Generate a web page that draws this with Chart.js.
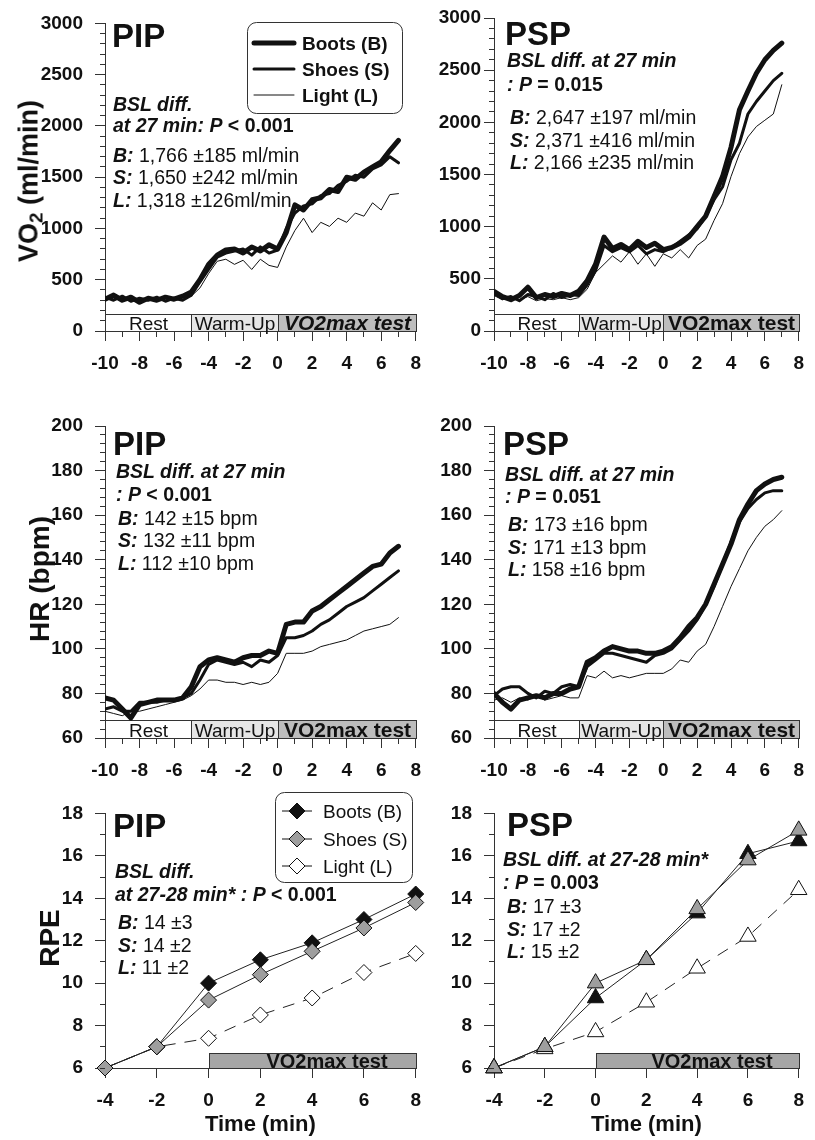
<!DOCTYPE html>
<html>
<head>
<meta charset="utf-8">
<script src="https://cdn.jsdelivr.net/npm/chart.js"></script>
<style>
  body { margin: 0; width: 815px; height: 1140px; position: relative; overflow: hidden; background: #fff;
         font-family: "Liberation Sans", Arial, sans-serif; color: #111; }
  .panel { position: absolute; }
  .txt { position: absolute; white-space: nowrap; line-height: 1; }
  .bi { font-weight: bold; font-style: italic; }
  .ytitle { position: absolute; white-space: nowrap; font-weight: bold; line-height: 1;
            transform: translate(-50%, -50%) rotate(-90deg); }
  .ytitle sub { font-size: 70%; vertical-align: -0.25em; line-height: 0; }
</style>
</head>
<body>
<div class="panel" style="left:0;top:0"><canvas id="c1" width="432" height="380"></canvas></div>
<div class="panel" style="left:415px;top:0"><canvas id="c2" width="400" height="380"></canvas></div>
<div class="panel" style="left:0;top:400px"><canvas id="c3" width="432" height="387"></canvas></div>
<div class="panel" style="left:415px;top:400px"><canvas id="c4" width="400" height="387"></canvas></div>
<div class="panel" style="left:0;top:790px"><canvas id="c5" width="432" height="350"></canvas></div>
<div class="panel" style="left:415px;top:790px"><canvas id="c6" width="400" height="350"></canvas></div>
<div id="notes"></div>
<script>
// ---- data ----
const minutes = [-10, -9.5, -9, -8.5, -8, -7.5, -7, -6.5, -6, -5.5, -5, -4.5, -4, -3.5, -3, -2.5, -2, -1.5, -1, -0.5,
  0, 0.5, 1, 1.5, 2, 2.5, 3, 3.5, 4, 4.5, 5, 5.5, 6, 6.5, 7];

const vo2PipBoots = [310, 350, 300, 330, 280, 320, 300, 330, 310, 340, 380, 500, 650, 740, 790, 800, 760, 820, 780, 840,
  800, 960, 1230, 1180, 1280, 1300, 1380, 1360, 1500, 1480, 1550, 1600, 1650, 1760, 1860];
const vo2PipShoes = [330, 300, 340, 290, 320, 300, 330, 290, 320, 300, 350, 480, 600, 720, 760, 780, 800, 740, 820, 760,
  790, 1000, 1150, 1220, 1240, 1320, 1340, 1420, 1460, 1520, 1500, 1580, 1620, 1700, 1640];
const vo2PipLight = [300, 320, 290, 310, 300, 330, 290, 340, 300, 330, 340, 420, 560, 680, 700, 650, 690, 600, 700, 640,
  620, 820, 980, 1100, 960, 1060, 1020, 1100, 1060, 1150, 1120, 1250, 1180, 1330, 1340];

const vo2PspBoots = [380, 330, 300, 340, 420, 320, 350, 330, 360, 340, 380, 480, 640, 900, 790, 830, 780, 860, 800, 840,
  780, 800, 840, 900, 1000, 1100, 1290, 1480, 1760, 2120, 2300, 2470, 2600, 2690, 2760];
const vo2PspShoes = [360, 310, 330, 290, 350, 330, 300, 360, 320, 350, 340, 440, 580, 820, 760, 800, 760, 820, 740, 780,
  760, 800, 860, 920, 980, 1100, 1260, 1380, 1640, 1800, 2080, 2200, 2300, 2400, 2470];
const vo2PspLight = [340, 300, 320, 300, 330, 290, 310, 300, 320, 300, 320, 400, 560, 640, 720, 660, 760, 640, 740, 620,
  740, 700, 780, 700, 820, 880, 1060, 1220, 1480, 1700, 1860, 1960, 2020, 2080, 2360];

const hrPipBoots = [78, 77, 73, 69, 75, 76, 77, 77, 77, 78, 83, 92, 95, 96, 95, 94, 96, 97, 97, 99,
  98, 111, 112, 112, 117, 119, 122, 125, 128, 131, 134, 137, 138, 143, 146];
const hrPipShoes = [73, 74, 72, 72, 76, 76, 76, 77, 77, 78, 80, 86, 93, 95, 94, 93, 94, 92, 95, 94,
  97, 105, 105, 106, 108, 111, 113, 116, 119, 121, 123, 126, 129, 132, 135];
const hrPipLight = [72, 71, 70, 72, 72, 73, 74, 75, 76, 77, 79, 82, 86, 86, 85, 85, 84, 85, 84, 85,
  89, 98, 98, 98, 99, 101, 102, 103, 104, 106, 108, 109, 110, 111, 114];

const hrPspBoots = [80, 76, 73, 77, 78, 79, 78, 80, 80, 82, 83, 94, 96, 99, 101, 100, 99, 99, 98, 98,
  99, 101, 105, 110, 114, 120, 129, 138, 147, 158, 165, 171, 174, 176, 177];
const hrPspShoes = [79, 82, 83, 83, 80, 78, 81, 80, 83, 84, 83, 92, 95, 98, 98, 97, 96, 95, 94, 97,
  98, 100, 104, 108, 113, 120, 128, 138, 148, 157, 163, 167, 170, 171, 171];
const hrPspLight = [77, 78, 76, 78, 77, 79, 77, 78, 79, 78, 78, 88, 87, 90, 87, 88, 87, 88, 89, 89,
  89, 91, 95, 94, 99, 102, 110, 119, 128, 136, 144, 150, 155, 158, 162];

const rpeMinutes = [-4, -2, 0, 2, 4, 6, 8];
const rpePipBoots = [6, 7, 10, 11.1, 11.9, 13, 14.2];
const rpePipShoes = [6, 7, 9.2, 10.4, 11.5, 12.6, 13.8];
const rpePipLight = [6, 7, 7.4, 8.5, 9.3, 10.5, 11.4];
const rpePspBoots = [6, 7, 9.3, 11.1, 13.3, 16.1, 16.7];
const rpePspShoes = [6, 7, 10, 11.1, 13.5, 15.8, 17.2];
const rpePspLight = [6, 6.9, 7.7, 9.1, 10.7, 12.2, 14.4];

const seriesNames = ["Boots (B)", "Shoes (S)", "Light (L)"];
const phaseNames = ["Rest", "Warm-Up", "VO2max test"];
const phaseStart = [-10, -5, 0];
const phaseEnd = [-5, 0, 8];

const timeRange = [-10, 8];
const rpeTimeRange = [-4, 8];
const vo2Range = [0, 3000];
const hrRange = [60, 200];
const rpeRange = [6, 18];

// ---- drawing helpers ----
const FAM = '"Liberation Sans", Arial, sans-serif';
const tickFont = { family: FAM, size: 19, weight: "bold" };

function roundRect(ctx, x, y, w, h, r) {
  ctx.beginPath();
  ctx.moveTo(x + r, y);
  ctx.arcTo(x + w, y, x + w, y + h, r);
  ctx.arcTo(x + w, y + h, x, y + h, r);
  ctx.arcTo(x, y + h, x, y, r);
  ctx.arcTo(x, y, x + w, y, r);
  ctx.closePath();
}

function drawLegend(chart, L) {
  const ctx = chart.ctx;
  ctx.save();
  roundRect(ctx, L.x + 0.5, L.y + 0.5, L.w, L.h, 9);
  ctx.fillStyle = "#fff";
  ctx.fill();
  ctx.strokeStyle = "#333";
  ctx.lineWidth = 1;
  ctx.stroke();
  chart.data.datasets.forEach((ds, i) => {
    const by = L.rows[i];
    const cy = by - 7;
    ctx.beginPath();
    ctx.setLineDash([]);
    ctx.strokeStyle = "#111";
    ctx.lineWidth = L.marker ? 1 : ds.borderWidth;
    ctx.lineCap = L.marker ? "butt" : "round";
    ctx.moveTo(L.lineX[0], cy);
    ctx.lineTo(L.lineX[1], cy);
    ctx.stroke();
    if (L.marker) {
      const mx = (L.lineX[0] + L.lineX[1]) / 2, r = ds.pointRadius;
      ctx.beginPath();
      ctx.moveTo(mx, cy - r);
      ctx.lineTo(mx + r, cy);
      ctx.lineTo(mx, cy + r);
      ctx.lineTo(mx - r, cy);
      ctx.closePath();
      ctx.fillStyle = ds.pointBackgroundColor;
      ctx.fill();
      ctx.strokeStyle = "#111";
      ctx.stroke();
    }
    ctx.fillStyle = "#111";
    ctx.font = L.font;
    ctx.textAlign = "left";
    ctx.textBaseline = "alphabetic";
    ctx.fillText(ds.label, L.textX, by);
  });
  ctx.restore();
}

const decor = {
  id: "decor",
  beforeDatasetsDraw(chart, args, o) {
    const p = o.phases;
    if (!p) return;
    const { ctx, chartArea: a, scales: { x } } = chart;
    ctx.save();
    p.start.forEach((s, i) => {
      const x0 = Math.round(x.getPixelForValue(s)) + 0.5;
      const x1 = Math.round(x.getPixelForValue(p.end[i])) + 0.5;
      const y1 = Math.round(a.bottom) + 0.5, y0 = y1 - p.height;
      ctx.fillStyle = p.fills[i];
      ctx.fillRect(x0, y0, x1 - x0, p.height);
      ctx.strokeStyle = "#333";
      ctx.lineWidth = 1;
      ctx.strokeRect(x0, y0, x1 - x0, p.height);
      ctx.fillStyle = "#111";
      ctx.font = p.fonts[i];
      ctx.textAlign = "center";
      ctx.textBaseline = "alphabetic";
      ctx.fillText(p.names[i], (x0 + x1) / 2 + (p.shift || 0), a.bottom + p.textDy);
    });
    ctx.restore();
  },
  afterDraw(chart, args, o) {
    const { ctx, chartArea: a, scales: { x, y } } = chart;
    ctx.save();
    ctx.strokeStyle = "#333";
    ctx.lineWidth = 1;
    ctx.beginPath();
    if (o.minorY) {
      const n = Math.round((y.max - y.min) / o.minorY);
      for (let i = 0; i <= n; i++) {
        const py = Math.round(y.getPixelForValue(y.min + i * o.minorY) - 0.5) + 0.5;
        ctx.moveTo(a.left - 5, py);
        ctx.lineTo(a.left, py);
      }
    }
    if (o.minorX) {
      const n = Math.round((x.max - x.min) / o.minorX);
      for (let i = 0; i <= n; i++) {
        const px = Math.round(x.getPixelForValue(x.min + i * o.minorX) - 0.5) + 0.5;
        ctx.moveTo(px, a.bottom);
        ctx.lineTo(px, a.bottom + 6);
      }
    }
    ctx.stroke();
    ctx.restore();
    if (o.legend) drawLegend(chart, o.legend);
  }
};
Chart.register(decor);

function options(p) {
  return {
    responsive: false,
    maintainAspectRatio: false,
    animation: false,
    events: [],
    layout: { padding: { left: 0, right: p.padRight, top: p.padTop, bottom: 0 } },
    plugins: { legend: { display: false }, tooltip: { enabled: false }, decor: p.decor },
    scales: {
      x: {
        type: "linear", min: p.x[0], max: p.x[1],
        ticks: { stepSize: 2, autoSkip: false, maxRotation: 0, padding: p.xPad, color: "#111", font: tickFont,
                 callback: (v) => String(v) },
        grid: { drawOnChartArea: false, tickLength: 10, tickColor: "#333", color: "#333" },
        border: { color: "#333", width: 1 },
        title: p.xTitle
          ? { display: true, text: p.xTitle, color: "#111", font: { family: FAM, size: 22, weight: "bold" }, padding: { top: 0, bottom: 2 } }
          : { display: false },
        afterFit: (s) => { s.height = p.xH; }
      },
      y: {
        type: "linear", min: p.y[0], max: p.y[1],
        ticks: { stepSize: p.yStep, padding: p.yPad, color: "#111", font: tickFont,
                 callback: (v) => String(v) },
        grid: { drawOnChartArea: false, tickLength: 10, tickColor: "#333", color: "#333" },
        border: { color: "#333", width: 1 },
        afterFit: (s) => { s.width = p.yW; }
      }
    }
  };
}

const lineWidths = [5, 3, 1];
function lineDatasets(series) {
  return series.map((vals, i) => ({
    label: seriesNames[i],
    data: minutes.map((t, k) => ({ x: t, y: vals[k] })),
    borderColor: "#111",
    borderWidth: lineWidths[i],
    borderJoinStyle: "round",
    borderCapStyle: "round",
    pointRadius: 0,
    tension: 0,
    order: 2 - i
  }));
}

const rpeFills = ["#111", "#9e9e9e", "#fff"];
function rpeDatasets(series, style, radius) {
  return series.map((vals, i) => ({
    label: seriesNames[i],
    data: rpeMinutes.map((t, k) => ({ x: t, y: vals[k] })),
    borderColor: "#222",
    borderWidth: 1,
    borderDash: i === 2 ? [12, 9] : [],
    pointStyle: style,
    pointRadius: radius,
    pointBackgroundColor: rpeFills[i],
    pointBorderColor: "#111",
    pointBorderWidth: 1,
    tension: 0,
    clip: false,
    order: [1, 0, 2][i]
  }));
}

function phases(fonts, height, textDy) {
  return {
    start: phaseStart, end: phaseEnd, names: phaseNames,
    fills: ["#ffffff", "#e6e6e6", "#bdbdbd"],
    fonts: fonts, height: height, textDy: textDy
  };
}
const reg = "19px " + FAM, bold = "bold 21px " + FAM, boldIt = "italic bold 21px " + FAM;

// top row: VO2
new Chart(document.getElementById("c1"), {
  type: "line",
  data: { datasets: lineDatasets([vo2PipBoots, vo2PipShoes, vo2PipLight]) },
  options: options({
    x: timeRange, y: vo2Range, yStep: 500, yW: 105, xH: 49, padTop: 18, padRight: 15, xPad: 11, yPad: 12,
    decor: {
      minorY: 100, minorX: 1, phases: phases([reg, reg, boldIt], 17, -1),
      legend: { x: 247, y: 22, w: 155, h: 91, rows: [50, 76, 102], lineX: [254, 294], textX: 302, font: "bold 19px " + FAM }
    }
  })
});
new Chart(document.getElementById("c2"), {
  type: "line",
  data: { datasets: lineDatasets([vo2PspBoots, vo2PspShoes, vo2PspLight]) },
  options: options({
    x: timeRange, y: vo2Range, yStep: 500, yW: 79, xH: 49, padTop: 18, padRight: 9, xPad: 11, yPad: 3,
    decor: { minorY: 100, minorX: 1, phases: phases([reg, reg, bold], 17, -1) }
  })
});

// middle row: HR
new Chart(document.getElementById("c3"), {
  type: "line",
  data: { datasets: lineDatasets([hrPipBoots, hrPipShoes, hrPipLight]) },
  options: options({
    x: timeRange, y: hrRange, yStep: 20, yW: 105, xH: 49, padTop: 26, padRight: 15, xPad: 11, yPad: 12,
    decor: { minorY: 4, minorX: 1, phases: phases([reg, reg, bold], 18, -1) }
  })
});
new Chart(document.getElementById("c4"), {
  type: "line",
  data: { datasets: lineDatasets([hrPspBoots, hrPspShoes, hrPspLight]) },
  options: options({
    x: timeRange, y: hrRange, yStep: 20, yW: 79, xH: 49, padTop: 26, padRight: 9, xPad: 11, yPad: 12,
    decor: { minorY: 4, minorX: 1, phases: phases([reg, reg, bold], 18, -1) }
  })
});

// bottom row: RPE
const rpePhase = {
  start: phaseStart.slice(2), end: phaseEnd.slice(2), names: phaseNames.slice(2),
  fills: ["#a6a6a6"], fonts: ["bold 20px " + FAM], height: 15, textDy: 0, shift: 14
};
new Chart(document.getElementById("c5"), {
  type: "line",
  data: { datasets: rpeDatasets([rpePipBoots, rpePipShoes, rpePipLight], "rectRot", 8) },
  options: options({
    x: rpeTimeRange, y: rpeRange, yStep: 2, yW: 105, xH: 72, padTop: 18, padRight: 15, xPad: 11, yPad: 12,
    xTitle: "Time (min)",
    decor: {
      minorY: 1, phases: rpePhase,
      legend: { x: 275, y: 2, w: 137, h: 90, rows: [28, 56, 83], lineX: [282, 312], textX: 323, font: "19px " + FAM, marker: true }
    }
  })
});
new Chart(document.getElementById("c6"), {
  type: "line",
  data: { datasets: rpeDatasets([rpePspBoots, rpePspShoes, rpePspLight], "triangle", 9.5) },
  options: options({
    x: rpeTimeRange, y: rpeRange, yStep: 2, yW: 79, xH: 72, padTop: 18, padRight: 9, xPad: 11, yPad: 12,
    xTitle: "Time (min)",
    decor: { minorY: 1, phases: rpePhase }
  })
});

// ---- text annotations ----
const S = 19.5;
const notes = [
  [112, 47, 33, "<b>PIP</b>"],
  [113, 112, S, '<span class="bi">BSL diff.</span>'],
  [113, 133, S, '<span class="bi">at 27 min: P</span><b> &lt; 0.001</b>'],
  [113, 163, S, '<span class="bi">B:</span> 1,766 ±185 ml/min'],
  [113, 185, S, '<span class="bi">S:</span> 1,650 ±242 ml/min'],
  [113, 208, S, '<span class="bi">L:</span> 1,318 ±126ml/min'],

  [505, 45, 33, "<b>PSP</b>"],
  [507, 68, S, '<span class="bi">BSL diff. at 27 min</span>'],
  [507, 92, S, '<span class="bi">: P</span><b> = 0.015</b>'],
  [510, 125, S, '<span class="bi">B:</span> 2,647 ±197 ml/min'],
  [510, 148, S, '<span class="bi">S:</span> 2,371 ±416 ml/min'],
  [510, 170, S, '<span class="bi">L:</span> 2,166 ±235 ml/min'],

  [113, 455, 33, "<b>PIP</b>"],
  [116, 479, S, '<span class="bi">BSL diff. at 27 min</span>'],
  [116, 502, S, '<span class="bi">: P</span><b> &lt; 0.001</b>'],
  [118, 526, S, '<span class="bi">B:</span> 142 ±15 bpm'],
  [118, 548, S, '<span class="bi">S:</span> 132 ±11 bpm'],
  [118, 571, S, '<span class="bi">L:</span> 112 ±10 bpm'],

  [503, 455, 33, "<b>PSP</b>"],
  [505, 482, S, '<span class="bi">BSL diff. at 27 min</span>'],
  [505, 504, S, '<span class="bi">: P</span><b> = 0.051</b>'],
  [508, 532, S, '<span class="bi">B:</span> 173 ±16 bpm'],
  [508, 555, S, '<span class="bi">S:</span> 171 ±13 bpm'],
  [508, 577, S, '<span class="bi">L:</span> 158 ±16 bpm'],

  [113, 837, 33, "<b>PIP</b>"],
  [115, 879, S, '<span class="bi">BSL diff.</span>'],
  [115, 902, S, '<span class="bi">at 27-28 min* : P</span><b> &lt; 0.001</b>'],
  [118, 930, S, '<span class="bi">B:</span> 14 ±3'],
  [118, 953, S, '<span class="bi">S:</span> 14 ±2'],
  [118, 975, S, '<span class="bi">L:</span> 11 ±2'],

  [507, 836, 33, "<b>PSP</b>"],
  [503, 867, S, '<span class="bi">BSL diff. at 27-28 min*</span>'],
  [503, 890, S, '<span class="bi">: P</span><b> = 0.003</b>'],
  [507, 914, S, '<span class="bi">B:</span> 17 ±3'],
  [507, 937, S, '<span class="bi">S:</span> 17 ±2'],
  [507, 959, S, '<span class="bi">L:</span> 15 ±2']
];
const holder = document.getElementById("notes");
notes.forEach(([x, base, size, html]) => {
  const d = document.createElement("div");
  d.className = "txt";
  d.style.left = x + "px";
  d.style.top = (base - 0.8465 * size) + "px";
  d.style.fontSize = size + "px";
  d.innerHTML = html;
  holder.appendChild(d);
});

const yTitles = [
  [29, 181, 27, "VO<sub>2</sub> (ml/min)"],
  [40, 579, 28, "HR (bpm)"],
  [50, 938, 28, "RPE"]
];
yTitles.forEach(([cx, cy, size, html]) => {
  const d = document.createElement("div");
  d.className = "ytitle";
  d.style.left = cx + "px";
  d.style.top = cy + "px";
  d.style.fontSize = size + "px";
  d.innerHTML = html;
  holder.appendChild(d);
});
</script>
</body>
</html>
